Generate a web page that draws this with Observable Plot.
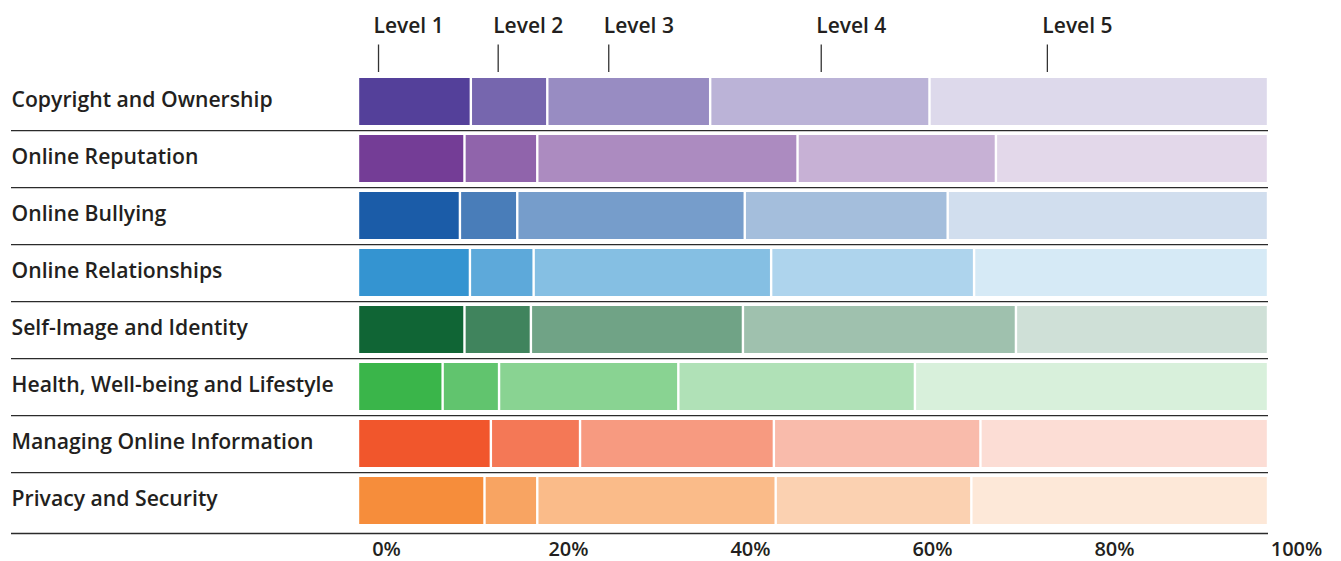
<!DOCTYPE html>
<html>
<head>
<meta charset="utf-8">
<script src="https://cdn.jsdelivr.net/npm/d3@7"></script>
<script src="https://cdn.jsdelivr.net/npm/@observablehq/plot@0.6"></script>
<style>
  html, body { margin: 0; padding: 0; background: #ffffff; }
  #chart { width: 1341px; height: 561px; }
</style>
</head>
<body>
<div id="chart"></div>
<script>
// Topic areas, top to bottom
const categories = [
  "Copyright and Ownership",
  "Online Reputation",
  "Online Bullying",
  "Online Relationships",
  "Self-Image and Identity",
  "Health, Well-being and Lifestyle",
  "Managing Online Information",
  "Privacy and Security"
];

// Share of each topic (%) at each level, in category order
const level1 = [12.4, 11.7, 11.2, 12.3, 11.7, 9.3, 14.6, 13.9];
const level2 = [8.4, 8.0, 6.3, 7.0, 7.3, 6.2, 9.8, 5.8];
const level3 = [17.9, 28.6, 25.0, 26.1, 23.3, 19.7, 21.3, 26.2];
const level4 = [24.1, 21.8, 22.3, 22.3, 30.0, 26.0, 22.7, 21.5];
const level5 = [37.2, 29.9, 35.2, 32.3, 27.7, 38.8, 31.6, 32.6];

const levelNames = ["Level 1", "Level 2", "Level 3", "Level 4", "Level 5"];
// Where each level heading sits on the percentage scale
const levelAt = [2.2, 15.35, 27.5, 50.85, 75.7];

const xTicks = [0, 20, 40, 60, 80, 100];

// One hue per topic; levels fade toward white
const topicColors = ["#54409a", "#743d96", "#1b5ca8", "#3494d1", "#106535", "#3ab54a", "#f1562c", "#f68d3b"];
const levelTint = [1, 0.8, 0.6, 0.4, 0.2];

const series = [level1, level2, level3, level4, level5];
const rows = categories.flatMap((c, i) =>
  levelNames.map((lv, j) => ({
    category: c,
    level: lv,
    value: series[j][i],
    fill: d3.interpolateRgb("#ffffff", topicColors[i])(levelTint[j])
  }))
);

const ink = "#231f20";

const chart = Plot.plot({
  width: 1341,
  height: 561,
  marginLeft: 11,
  marginRight: 73,
  marginTop: 72,
  marginBottom: 32,
  x: { domain: [0, 100], range: [358, 1268] },
  y: { domain: categories, paddingInner: 0.18, paddingOuter: 0.09 },
  color: { type: "identity" },
  style: {
    fontFamily: "'Open Sans', sans-serif",
    fontWeight: 600,
    color: ink,
    background: "#ffffff"
  },
  marks: [
    // stacked level segments
    Plot.barX(rows, Plot.stackX({
      x: "value",
      y: "category",
      fill: "fill",
      insetLeft: 1.2,
      insetRight: 1.2
    })),
    // row separators
    Plot.ruleY(categories.slice(0, -1), { y: d => d, dy: 28.6, stroke: "#2b2b2b", strokeWidth: 1.3 }),
    Plot.ruleY(categories.slice(-1), { y: d => d, dy: 32.5, stroke: "#2b2b2b", strokeWidth: 1.3 }),
    // level heading ticks and labels
    Plot.ruleX(levelAt, { x: d => d, insetTop: -27.5, insetBottom: 457, stroke: "#333", strokeWidth: 1.3 }),
    Plot.text(levelNames, {
      x: (d, i) => levelAt[i],
      frameAnchor: "top",
      dy: -39.5,
      dx: -5,
      textAnchor: "start",
      lineAnchor: "bottom",
      fontSize: 21,
      fill: ink
    }),
    // topic labels
    Plot.axisY({
      anchor: "left",
      tickSize: 0,
      tickPadding: 0,
      textAnchor: "start",
      fontSize: 21.2,
      dy: -1.3,
      label: null,
      fill: ink
    }),
    // percentage axis
    Plot.axisX({
      anchor: "bottom",
      ticks: xTicks,
      tickFormat: d => `${d}%`,
      tickSize: 0,
      tickPadding: 12,
      dx: 28,
      fontSize: 20,
      label: null,
      fill: ink
    })
  ]
});

document.getElementById("chart").append(chart);
</script>
</body>
</html>
